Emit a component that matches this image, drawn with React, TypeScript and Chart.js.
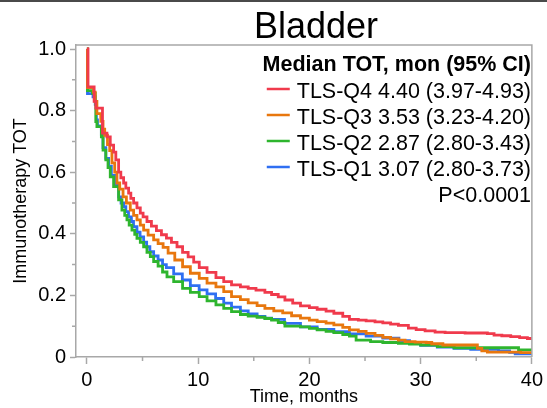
import React, { useEffect, useRef } from 'react';
import { Chart, registerables } from 'chart.js';

Chart.register(...registerables);

const TITLE = 'Bladder';
const X_TITLE = 'Time, months';
const Y_TITLE = 'Immunotherapy TOT';
const LEGEND_HEADER = 'Median TOT, mon (95% CI)';
const P_VALUE = 'P<0.0001';

const seriesNames = ['TLS-Q4', 'TLS-Q3', 'TLS-Q2', 'TLS-Q1'];
const medians = ['4.40', '3.53', '2.87', '3.07'];
const ciLow = ['3.97', '3.23', '2.80', '2.80'];
const ciHigh = ['4.93', '4.20', '3.43', '3.73'];
const colors = ['#F03A4C', '#E8770E', '#2EB52E', '#2F6FF2'];

const q4Times = [0, 0.1, 0.65, 0.8, 1.4, 1.8, 2.1, 2.4, 2.6, 2.85, 3.05, 3.3, 3.5, 3.75, 3.95, 4.2, 4.5, 4.8, 5.05, 5.4, 5.8, 6.25, 6.7, 7.15, 7.6, 8.1, 8.6, 9.1, 9.6, 10.1, 10.8, 11.6, 12.3, 13.0, 13.8, 14.5, 15.2, 16.0, 16.6, 17.2, 17.8, 18.5, 19.2, 20.0, 20.7, 21.5, 22.2, 23.0, 23.6, 24.4, 25.1, 25.9, 26.6, 27.3, 28.0, 28.9, 29.6, 30.4, 31.3, 32.2, 34.0, 36.0, 36.6, 37.3, 38.1, 38.9, 39.6, 40];
const q4Surv = [1.0, 0.877, 0.83, 0.808, 0.727, 0.715, 0.688, 0.665, 0.64, 0.6, 0.582, 0.565, 0.548, 0.532, 0.515, 0.5, 0.484, 0.467, 0.455, 0.44, 0.425, 0.41, 0.397, 0.386, 0.372, 0.358, 0.34, 0.325, 0.308, 0.29, 0.275, 0.258, 0.245, 0.234, 0.228, 0.223, 0.217, 0.21, 0.203, 0.195, 0.185, 0.175, 0.166, 0.16, 0.155, 0.149, 0.142, 0.132, 0.122, 0.12, 0.117, 0.114, 0.111, 0.107, 0.103, 0.094, 0.089, 0.085, 0.081, 0.079, 0.078, 0.076, 0.071, 0.069, 0.066, 0.063, 0.06, 0.057];

const q3Times = [0, 0.05, 0.6, 0.75, 0.9, 1.25, 1.45, 1.6, 1.85, 2.05, 2.25, 2.5, 2.7, 2.95, 3.25, 3.55, 3.9, 4.2, 4.5, 4.8, 5.1, 5.5, 6.0, 6.4, 6.85, 7.3, 7.9, 8.6, 9.3, 10.1, 10.8, 11.6, 12.3, 13.0, 13.8, 14.5, 15.3, 16.0, 16.8, 17.6, 18.4, 19.2, 20.0, 20.7, 21.5, 22.2, 23.0, 23.6, 24.4, 25.1, 25.9, 26.6, 27.3, 28.0, 28.6, 29.5, 30.5, 31.0, 32.0, 34.9, 35.1, 35.5, 36.0, 39.0, 40];
const q3Surv = [1.0, 0.875, 0.86, 0.83, 0.79, 0.765, 0.74, 0.72, 0.69, 0.67, 0.63, 0.6, 0.565, 0.545, 0.52, 0.5, 0.477, 0.46, 0.445, 0.428, 0.412, 0.396, 0.38, 0.368, 0.356, 0.337, 0.315, 0.293, 0.272, 0.255, 0.24, 0.228, 0.212, 0.196, 0.186, 0.176, 0.167, 0.158, 0.15, 0.143, 0.134, 0.126, 0.12, 0.115, 0.11, 0.104, 0.096, 0.088, 0.083, 0.077, 0.07, 0.064, 0.059, 0.055, 0.05, 0.048, 0.047, 0.043, 0.039, 0.039, 0.028, 0.02, 0.016, 0.014, 0.012];

const q2Times = [0, 0.05, 0.5, 0.75, 0.8, 0.9, 1.3, 1.45, 1.7, 1.9, 2.1, 2.4, 2.85, 3.15, 3.4, 3.6, 3.8, 4.05, 4.3, 4.5, 4.8, 5.1, 5.4, 5.7, 6.0, 6.4, 6.8, 7.2, 7.8, 8.6, 9.3, 10.1, 10.8, 11.6, 12.3, 13.0, 13.8, 14.5, 15.3, 16.0, 16.6, 17.2, 17.8, 19.2, 20.0, 20.7, 21.5, 22.2, 23.0, 23.6, 24.2, 25.5, 26.6, 28.0, 29.0, 30.0, 31.5, 33.0, 38.8, 40];
const q2Surv = [1.0, 0.865, 0.856, 0.83, 0.764, 0.748, 0.715, 0.672, 0.64, 0.615, 0.585, 0.553, 0.51, 0.477, 0.46, 0.445, 0.428, 0.412, 0.398, 0.385, 0.372, 0.358, 0.34, 0.326, 0.31, 0.295, 0.276, 0.26, 0.245, 0.223, 0.21, 0.196, 0.182, 0.169, 0.158, 0.147, 0.138, 0.133, 0.129, 0.125, 0.12, 0.112, 0.1, 0.098, 0.093, 0.088, 0.083, 0.079, 0.073, 0.068, 0.055, 0.05, 0.047, 0.044, 0.042, 0.039, 0.034, 0.03, 0.023, 0.022];

const q1Times = [0, 0.05, 0.55, 0.75, 0.85, 0.95, 1.3, 1.45, 1.7, 1.95, 2.2, 2.5, 2.86, 3.07, 3.3, 3.5, 3.74, 4.0, 4.19, 4.5, 4.78, 5.1, 5.37, 5.66, 6.0, 6.4, 6.8, 7.14, 7.8, 8.58, 9.3, 10.09, 10.8, 11.57, 12.3, 13.0, 13.8, 14.5, 15.3, 16.0, 16.6, 17.76, 19.2, 20.7, 22.2, 23.6, 25.1, 26.6, 28.05, 29.0, 30.0, 31.5, 33.0, 34.5, 37.0, 38.0, 38.5, 40];
const q1Surv = [1.0, 0.855, 0.845, 0.82, 0.77, 0.75, 0.72, 0.68, 0.645, 0.62, 0.59, 0.56, 0.52, 0.5, 0.488, 0.472, 0.455, 0.44, 0.423, 0.405, 0.39, 0.373, 0.358, 0.342, 0.328, 0.315, 0.3, 0.29, 0.27, 0.25, 0.232, 0.218, 0.205, 0.19, 0.175, 0.162, 0.15, 0.14, 0.132, 0.126, 0.122, 0.109, 0.098, 0.09, 0.082, 0.075, 0.068, 0.061, 0.053, 0.045, 0.038, 0.032, 0.028, 0.025, 0.02, 0.015, 0.01, 0.008];

const seriesTimes = [q4Times, q3Times, q2Times, q1Times];
const seriesSurv = [q4Surv, q3Surv, q2Surv, q1Surv];

const xMajorTicks = [0, 10, 20, 30, 40];
const xMinorTicks = [5, 15, 25, 35];
const xTickLabels = ['0', '10', '20', '30', '40'];
const yMajorTicks = [0, 0.2, 0.4, 0.6, 0.8, 1.0];
const yMinorTicks = [0.1, 0.3, 0.5, 0.7, 0.9];
const yTickLabels = ['0', '0.2', '0.4', '0.6', '0.8', '1.0'];

const FONT = '"Liberation Sans", Arial, Helvetica, sans-serif';
const AXIS_COLOR = '#a8a8a8';

const near = (a: number, b: number) => Math.abs(a - b) < 1e-6;
const idxIn = (arr: number[], v: number) => arr.findIndex((a) => near(a, v));

const decorPlugin = {
  id: 'decor',
  afterDraw(chart: any) {
    const { ctx, chartArea } = chart;
    const xs = chart.scales.x;
    const ys = chart.scales.y;
    ctx.save();
    // top dark band
    ctx.fillStyle = '#4a4a4a';
    ctx.fillRect(0, 0, chart.width, 2);
    // top + right frame
    ctx.strokeStyle = AXIS_COLOR;
    ctx.lineWidth = 1.5;
    ctx.beginPath();
    ctx.moveTo(chartArea.left, chartArea.top);
    ctx.lineTo(chartArea.right, chartArea.top);
    ctx.lineTo(chartArea.right, chartArea.bottom);
    ctx.stroke();
    // minor ticks
    ctx.beginPath();
    xMinorTicks.forEach((v) => {
      const px = xs.getPixelForValue(v);
      ctx.moveTo(px, chartArea.bottom);
      ctx.lineTo(px, chartArea.bottom + 4);
    });
    yMinorTicks.forEach((v) => {
      const py = ys.getPixelForValue(v);
      ctx.moveTo(chartArea.left, py);
      ctx.lineTo(chartArea.left - 4, py);
    });
    ctx.stroke();

    ctx.fillStyle = '#000';
    // title
    ctx.font = `36px ${FONT}`;
    ctx.textAlign = 'center';
    ctx.textBaseline = 'alphabetic';
    ctx.fillText(TITLE, 316, 38);
    // x title
    ctx.font = `18px ${FONT}`;
    ctx.fillText(X_TITLE, (chartArea.left + chartArea.right) / 2, 402);
    // y title
    ctx.save();
    ctx.translate(21, (chartArea.top + chartArea.bottom) / 2);
    ctx.rotate(-Math.PI / 2);
    ctx.textBaseline = 'middle';
    ctx.fillText(Y_TITLE, 0, 0);
    ctx.restore();

    // legend
    const rightX = 531;
    ctx.textAlign = 'right';
    ctx.textBaseline = 'alphabetic';
    ctx.font = `bold 21.5px ${FONT}`;
    ctx.fillText(LEGEND_HEADER, rightX, 71);
    ctx.font = `21.5px ${FONT}`;
    const rowGap = 26;
    seriesNames.forEach((name, i) => {
      const base = 98 + i * rowGap;
      const label = `${name} ${medians[i]} (${ciLow[i]}-${ciHigh[i]})`;
      ctx.textAlign = 'right';
      ctx.fillText(label, rightX, base);
      const w = ctx.measureText(label).width;
      const lx1 = rightX - w - 7;
      ctx.strokeStyle = colors[i];
      ctx.lineWidth = 2.5;
      ctx.beginPath();
      ctx.moveTo(lx1 - 23, base - 9);
      ctx.lineTo(lx1, base - 9);
      ctx.stroke();
    });
    ctx.textAlign = 'right';
    ctx.fillText(P_VALUE, rightX, 98 + 4 * rowGap);
    ctx.restore();
  },
};

export default function App() {
  const ref = useRef<HTMLCanvasElement | null>(null);

  useEffect(() => {
    if (!ref.current) return;
    const datasets = seriesNames.map((name, i) => ({
      label: name,
      data: seriesTimes[i].map((t, j) => ({ x: t, y: seriesSurv[i][j] })),
      borderColor: colors[i],
      backgroundColor: colors[i],
      borderWidth: 2.8,
      pointRadius: 0,
      pointHoverRadius: 0,
      stepped: 'before' as const,
      tension: 0,
      fill: false,
    }));

    const chart = new Chart(ref.current, {
      type: 'line',
      data: { datasets },
      plugins: [decorPlugin],
      options: {
        responsive: false,
        animation: false,
        events: [],
        layout: { padding: { top: 45, right: 10, left: 0, bottom: 0 } },
        plugins: {
          legend: { display: false },
          title: { display: false },
          tooltip: { enabled: false },
        },
        scales: {
          x: {
            type: 'linear',
            min: -0.98,
            max: 40,
            afterFit: (s: any) => {
              s.height = 51;
            },
            afterBuildTicks: (s: any) => {
              s.ticks = [...xMajorTicks, ...xMinorTicks].sort((a, b) => a - b).map((v) => ({ value: v }));
            },
            ticks: {
              autoSkip: false,
              maxRotation: 0,
              padding: 4,
              color: '#000',
              font: { family: FONT, size: 20 },
              callback: (v: any) => {
                const k = idxIn(xMajorTicks, Number(v));
                return k >= 0 ? xTickLabels[k] : '';
              },
            },
            grid: {
              drawOnChartArea: false,
              drawTicks: true,
              tickLength: 7,
              tickWidth: 1.5,
              tickColor: (c: any) => (c.tick && idxIn(xMajorTicks, c.tick.value) >= 0 ? AXIS_COLOR : 'rgba(0,0,0,0)'),
            },
            border: { display: true, color: AXIS_COLOR, width: 1.5 },
          },
          y: {
            type: 'linear',
            min: 0,
            max: 1.013,
            afterFit: (s: any) => {
              s.width = 76;
            },
            afterBuildTicks: (s: any) => {
              s.ticks = [...yMajorTicks, ...yMinorTicks].sort((a, b) => a - b).map((v) => ({ value: v }));
            },
            ticks: {
              autoSkip: false,
              padding: 4,
              color: '#000',
              font: { family: FONT, size: 20 },
              callback: (v: any) => {
                const k = idxIn(yMajorTicks, Number(v));
                return k >= 0 ? yTickLabels[k] : '';
              },
            },
            grid: {
              drawOnChartArea: false,
              drawTicks: true,
              tickLength: 6,
              tickWidth: 1.5,
              tickColor: (c: any) => (c.tick && idxIn(yMajorTicks, c.tick.value) >= 0 ? AXIS_COLOR : 'rgba(0,0,0,0)'),
            },
            border: { display: true, color: AXIS_COLOR, width: 1.5 },
          },
        },
      },
    });
    return () => chart.destroy();
  }, []);

  return (
    <div style={{ position: 'fixed', left: 0, top: 0, width: 547, height: 408, background: '#fff' }}>
      <canvas ref={ref} width={547} height={408} style={{ display: 'block', width: 547, height: 408 }} />
    </div>
  );
}
